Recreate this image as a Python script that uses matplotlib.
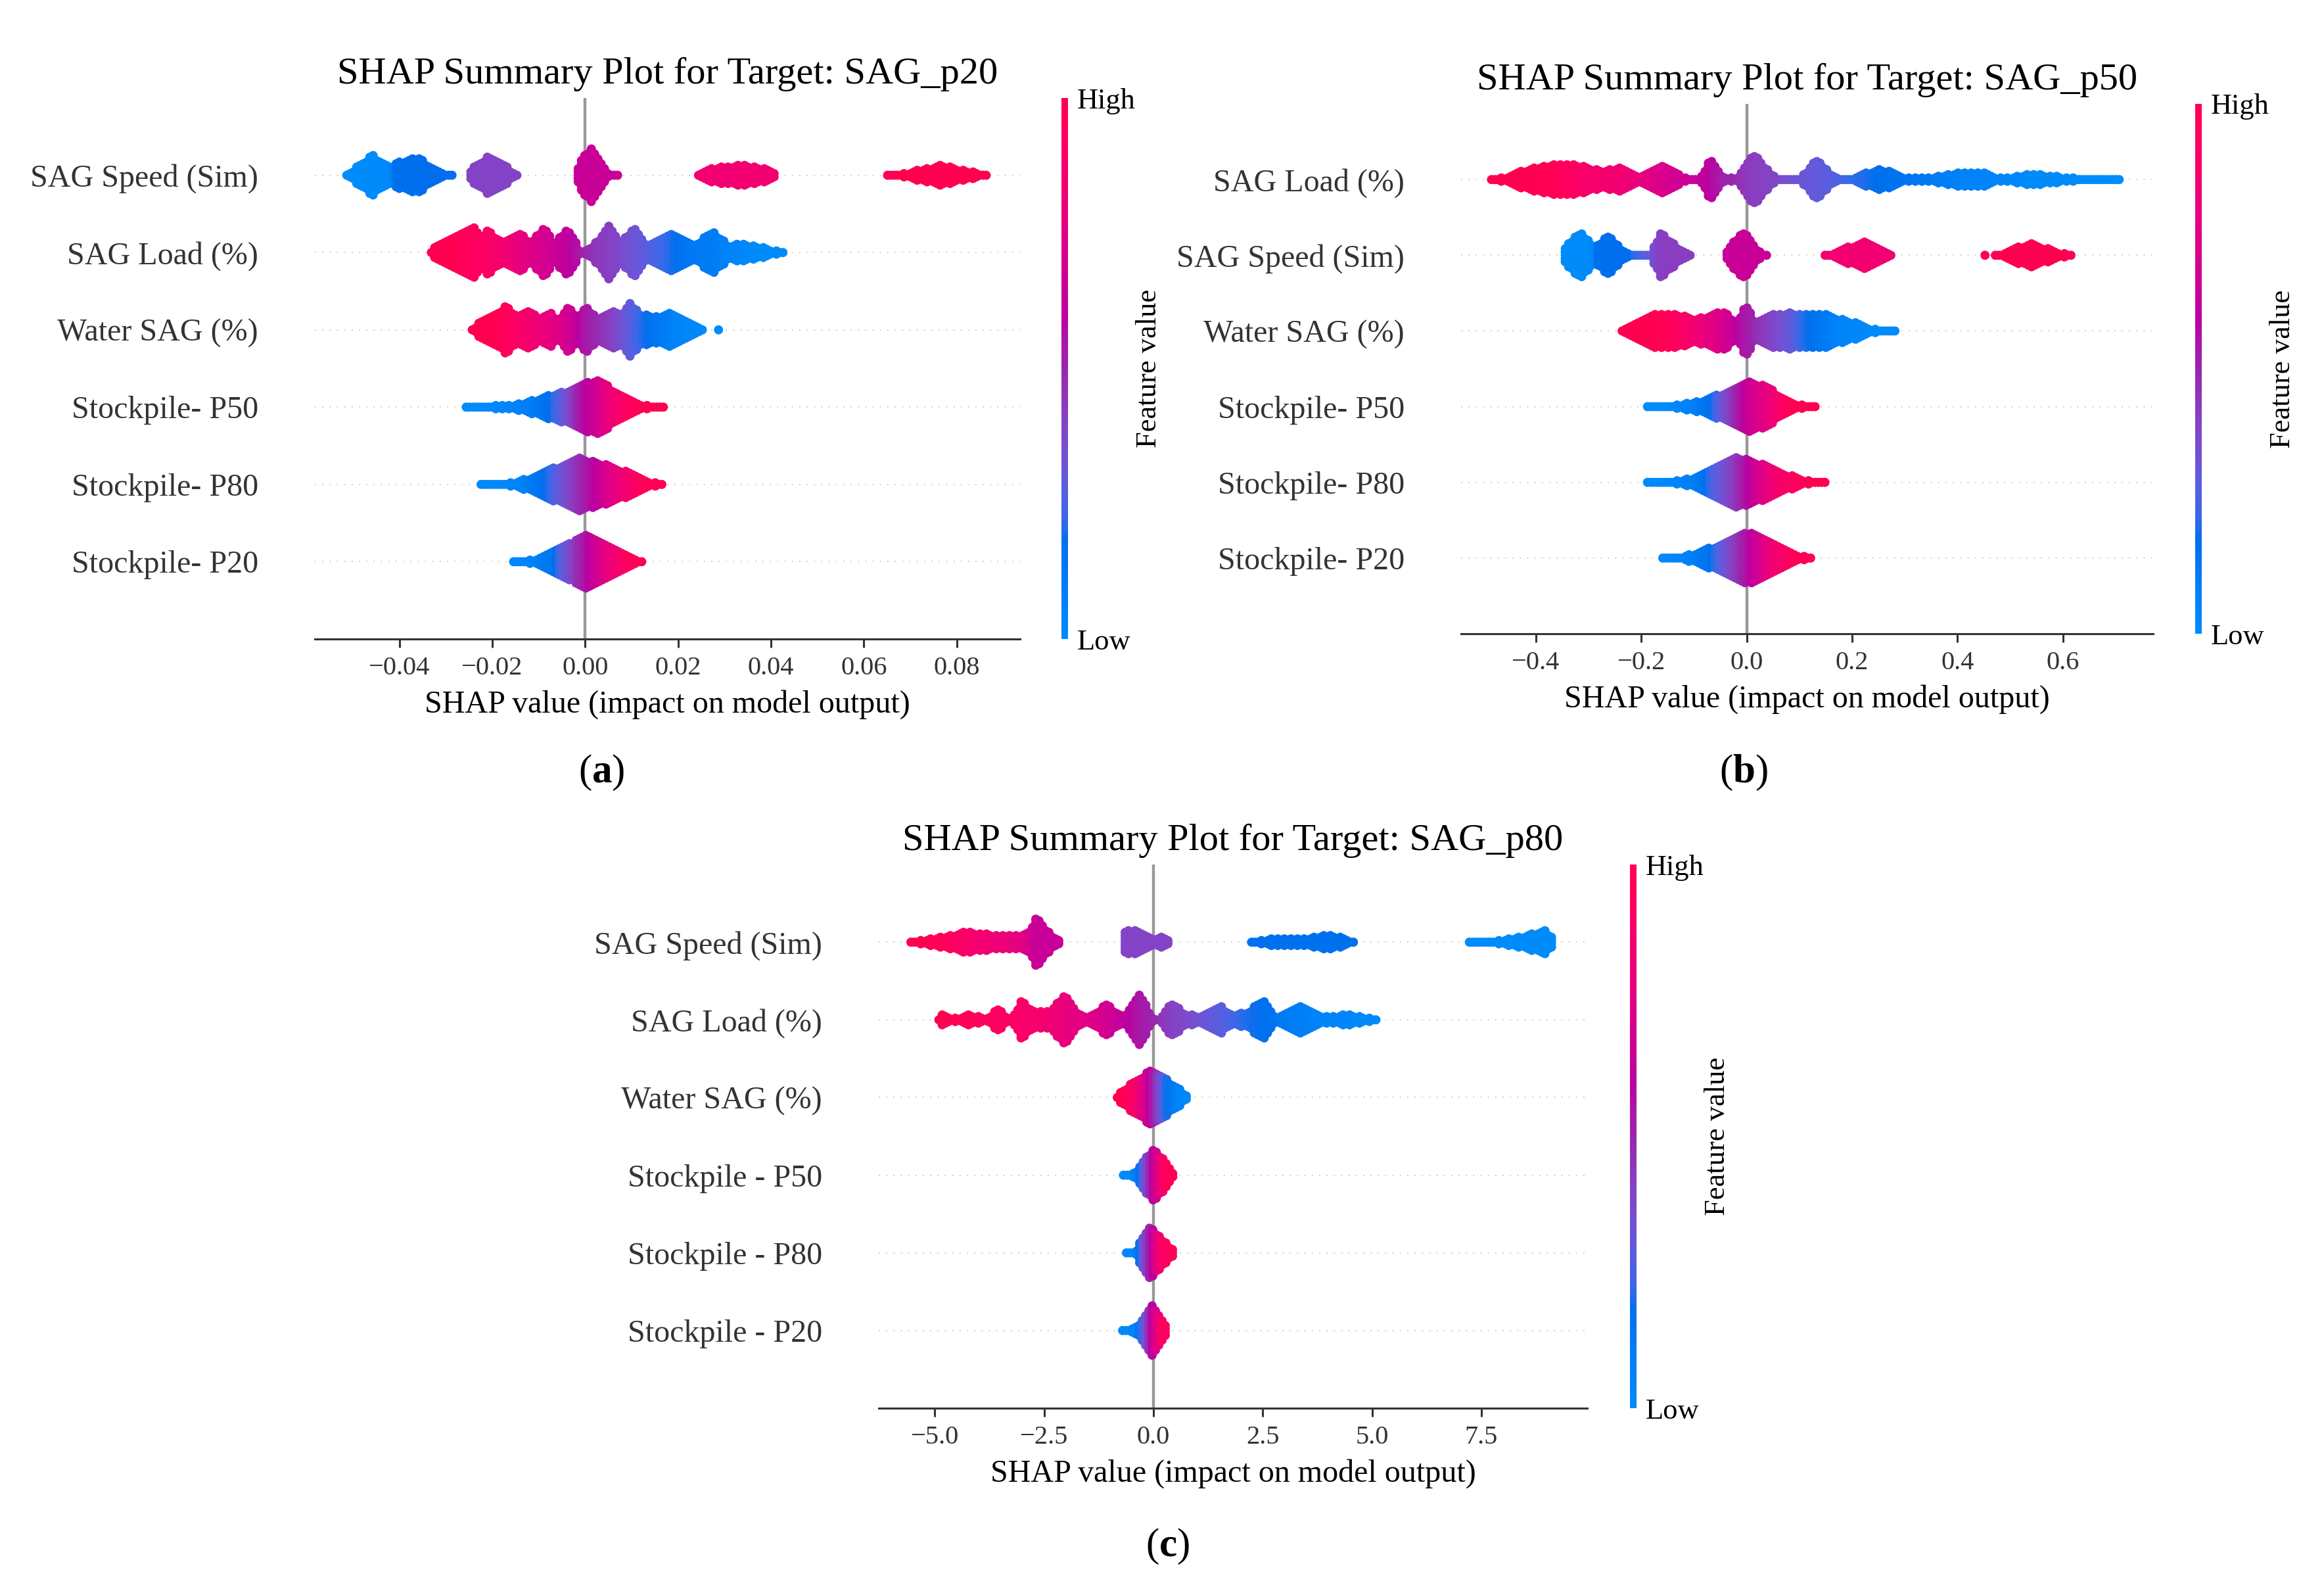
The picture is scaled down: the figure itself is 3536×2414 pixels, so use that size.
import numpy as np
import matplotlib
matplotlib.use("Agg")
import matplotlib.pyplot as plt
from matplotlib.colors import LinearSegmentedColormap, Normalize
from matplotlib.cm import ScalarMappable

plt.rcParams['font.family'] = ['Liberation Serif', 'DejaVu Serif']
plt.rcParams['mathtext.fontset'] = 'custom'
plt.rcParams['mathtext.rm'] = 'Liberation Serif'
plt.rcParams['mathtext.bf'] = 'Liberation Serif:bold'

# feature order (top to bottom) for each target
features_p20 = ["SAG Speed (Sim)", "SAG Load (%)", "Water SAG (%)",
                "Stockpile- P50", "Stockpile- P80", "Stockpile- P20"]
features_p50 = ["SAG Load (%)", "SAG Speed (Sim)", "Water SAG (%)",
                "Stockpile- P50", "Stockpile- P80", "Stockpile- P20"]
features_p80 = ["SAG Speed (Sim)", "SAG Load (%)", "Water SAG (%)",
                "Stockpile - P50", "Stockpile - P80", "Stockpile - P20"]

ticks_p20 = [-0.04, -0.02, 0.00, 0.02, 0.04, 0.06, 0.08]
ticks_p50 = [-0.4, -0.2, 0.0, 0.2, 0.4, 0.6]
ticks_p80 = [-5.0, -2.5, 0.0, 2.5, 5.0, 7.5]

# swarm outlines:
# (SHAP value, half height as fraction of row gap, feature value 0=low..1=high), None = gap
a_speed = [(-0.0523, .06, 0), (-0.0495, .155, 0), (-0.0475, .25, 0), (-0.0458, .325, 0),
           (-0.0436, .24, 0), (-0.0416, .17, .02), (-0.0405, .23, .18), (-0.0359, .30, .18),
           (-0.0331, .17, .18), (-0.0306, .10, .18), (-0.0271, .04, .18), None,
           (-0.0256, .04, .4), (-0.0236, .20, .4), (-0.0208, .31, .4), (-0.0176, .20, .4),
           (-0.0152, .10, .4), (-0.0132, .04, .4), None,
           (-0.0025, .07, .65), (-0.0007, .28, .65), (0.0013, .41, .65), (0.0033, .23, .65),
           (0.0053, .07, .65), (0.0083, .04, .65), None,
           (0.0234, .04, .85), (0.0272, .155, .85), (0.0332, .20, .85), (0.0382, .155, .85),
           (0.0422, .04, .85), None,
           (0.0641, .03, 1), (0.0701, .11, 1), (0.0766, .19, 1), (0.0830, .11, 1), (0.0880, .03, 1)]
a_load = [(-0.0341, .04, 1), (-0.0316, .17, 1), (-0.0286, .25, 1), (-0.0266, .34, .98),
          (-0.0241, .40, .95), (-0.0226, .27, .93), (-0.0211, .35, .92), (-0.0186, .24, .88),
          (-0.0166, .21, .85), (-0.0142, .325, .8), (-0.0117, .20, .75), (-0.0087, .40, .7),
          (-0.0067, .18, .66), (-0.0037, .38, .62), (-0.0012, .11, .55), (0.0003, .085, .5),
          (0.0023, .20, .45), (0.0051, .41, .42), (0.0078, .20, .38), (0.0108, .40, .33),
          (0.0133, .155, .28), (0.0187, .30, .2), (0.0232, .17, .12), (0.0277, .325, .1),
          (0.0312, .155, .05), (0.0342, .18, .03), (0.0382, .13, 0), (0.0437, .04, 0)]
a_water = [(-0.0253, .04, 1), (-0.0226, .17, 1), (-0.0196, .25, 1), (-0.0171, .37, .97),
           (-0.0147, .23, .92), (-0.0117, .31, .87), (-0.0097, .20, .82), (-0.0077, .31, .8),
           (-0.0057, .20, .75), (-0.0035, .38, .7), (-0.0017, .20, .62), (0.0003, .37, .55),
           (0.0028, .20, .48), (0.0058, .325, .42), (0.0078, .23, .35), (0.0095, .41, .3),
           (0.0118, .28, .22), (0.0148, .23, .15), (0.0177, .28, .1), (0.0202, .24, .05),
           (0.0232, .14, .02), (0.0262, .04, 0), None, (0.0287, .04, 0)]
a_p50 = [(-0.0266, .04, 0), (-0.0216, .07, 0), (-0.0156, .10, .05), (-0.0107, .155, .1),
         (-0.0067, .24, .2), (-0.0037, .27, .35), (-0.0007, .37, .55), (0.0033, .41, .7),
         (0.0063, .28, .85), (0.0103, .14, .95), (0.0143, .07, 1), (0.0182, .04, 1)]
a_p80 = [(-0.0234, .04, 0), (-0.0176, .07, .02), (-0.0127, .13, .08), (-0.0077, .25, .2),
         (-0.0017, .41, .45), (0.0023, .35, .6), (0.0073, .27, .8), (0.0123, .13, .95),
         (0.0180, .04, 1)]
a_p20 = [(-0.0164, .04, 0), (-0.0117, .085, .05), (-0.0067, .23, .15), (-0.0027, .31, .4),
         (0.0001, .41, .55), (0.0043, .30, .75), (0.0093, .13, .95), (0.0138, .04, 1)]

b_load = [(-0.493, .04, 1), (-0.456, .11, 1), (-0.412, .21, 1), (-0.355, .28, .97),
          (-0.307, .24, .9), (-0.272, .17, .87), (-0.237, .24, .85), (-0.201, .11, .8),
          (-0.157, .25, .72), (-0.122, .10, .67), (-0.091, .06, .65), (-0.069, .325, .6),
          (-0.043, .085, .52), (-0.021, .085, .48), (0.014, .40, .42), (0.049, .13, .4),
          (0.062, .04, .38), (0.076, .04, .35), (0.098, .07, .33), (0.133, .325, .3),
          (0.168, .085, .27), (0.194, .07, .22), (0.252, .21, .18), (0.309, .085, .15),
          (0.344, .085, .12), (0.405, .17, .07), (0.449, .155, .05), (0.485, .085, .03),
          (0.546, .14, 0), (0.617, .085, 0), (0.690, .06, 0), (0.718, .04, 0)]
b_speed = [(-0.353, .04, 0), (-0.338, .23, 0), (-0.316, .37, 0), (-0.298, .25, 0),
           (-0.285, .17, .05), (-0.283, .20, .18), (-0.263, .325, .18), (-0.241, .17, .18),
           (-0.219, .07, .18), (-0.184, .06, .3), (-0.162, .37, .42), (-0.131, .17, .42),
           (-0.098, .04, .42), None,
           (-0.046, .06, .65), (-0.026, .23, .65), (-0.004, .40, .65), (0.018, .17, .65),
           (0.036, .04, .65), (0.052, .04, .65), None,
           (0.140, .04, .85), (0.177, .14, .85), (0.225, .24, .85), (0.265, .13, .85),
           (0.287, .04, .85), None,
           (0.452, .035, 1), None,
           (0.463, .04, 1), (0.493, .11, 1), (0.537, .23, 1), (0.581, .13, 1), (0.625, .04, 1)]
b_water = [(-0.245, .04, 1), (-0.210, .17, 1), (-0.184, .28, 1), (-0.149, .30, .98),
           (-0.113, .25, .9), (-0.096, .21, .85), (-0.065, .30, .78), (-0.039, .31, .7),
           (-0.021, .17, .62), (-0.001, .40, .55), (0.018, .17, .48), (0.049, .28, .4),
           (0.080, .31, .32), (0.106, .28, .22), (0.146, .30, .12), (0.177, .23, .05),
           (0.221, .14, .02), (0.256, .06, 0), (0.296, .04, 0)]
b_p50 = [(-0.197, .04, 0), (-0.149, .07, 0), (-0.096, .13, .08), (-0.061, .21, .2),
         (-0.026, .28, .45), (0.005, .40, .65), (0.045, .31, .8), (0.076, .14, .95),
         (0.115, .07, 1), (0.143, .04, 1)]
b_p80 = [(-0.197, .04, 0), (-0.149, .07, .02), (-0.096, .13, .08), (-0.061, .25, .25),
         (-0.018, .40, .45), (0.014, .34, .65), (0.054, .25, .85), (0.098, .11, .95),
         (0.137, .06, 1), (0.159, .04, 1)]
b_p20 = [(-0.168, .04, 0), (-0.122, .085, .05), (-0.069, .20, .15), (-0.026, .35, .4),
         (0.010, .41, .6), (0.054, .25, .85), (0.098, .11, .97), (0.135, .04, 1)]

c_speed = [(-5.65, .04, 1), (-5.22, .10, 1), (-4.80, .13, .97), (-4.27, .20, .9),
           (-3.85, .17, .85), (-3.42, .155, .82), (-3.00, .155, .78), (-2.79, .23, .7),
           (-2.66, .41, .65), (-2.47, .23, .65), (-2.20, .10, .65), (-1.99, .04, .65), None,
           (-0.75, .06, .4), (-0.61, .25, .4), (-0.35, .20, .4), (-0.03, .11, .4),
           (0.23, .155, .4), (0.44, .04, .4), None,
           (2.14, .04, .17), (2.62, .11, .17), (3.36, .11, .17), (3.94, .155, .17),
           (4.42, .11, .17), (4.68, .04, .17), None,
           (7.12, .04, 0), (7.70, .07, 0), (8.34, .13, 0), (8.97, .21, 0), (9.24, .04, 0)]
c_load = [(-5.01, .04, 1), (-4.82, .14, 1), (-4.59, .085, 1), (-4.16, .13, .97),
          (-3.85, .085, .95), (-3.53, .21, .93), (-3.26, .07, .92), (-3.02, .31, .9),
          (-2.73, .17, .88), (-2.36, .17, .85), (-2.02, .40, .8), (-1.73, .13, .77),
          (-1.41, .11, .75), (-1.09, .27, .7), (-0.67, .11, .62), (-0.30, .41, .55),
          (-0.03, .11, .5), (0.13, .04, .47), (0.39, .30, .42), (0.71, .155, .38),
          (1.03, .11, .34), (1.56, .23, .28), (1.77, .13, .25), (2.14, .17, .2),
          (2.53, .325, .18), (2.83, .085, .15), (2.99, .155, .12), (3.46, .25, .08),
          (3.78, .11, .05), (4.42, .13, .03), (4.84, .10, 0), (5.24, .04, 0)]
c_water = [(-0.93, .04, 1), (-0.67, .17, 1), (-0.40, .30, .9), (-0.05, .41, .6),
           (0.29, .30, .2), (0.60, .17, .05), (0.90, .04, 0)]
c_p50 = [(-0.79, .04, 0), (-0.60, .07, 0), (-0.40, .13, .05), (-0.24, .25, .25),
         (0.0, .41, .6), (0.29, .23, .95), (0.55, .04, 1)]
c_p80 = [(-0.72, .04, 0), (-0.40, .11, .05), (-0.24, .27, .3), (-0.05, .41, .55),
         (0.18, .25, .9), (0.55, .04, 1)]
c_p20 = [(-0.81, .04, 0), (-0.40, .11, .05), (-0.19, .25, .3), (-0.05, .41, .55),
         (0.18, .20, .9), (0.44, .04, 1)]


# shap-like red/blue colormap (lch interpolation, lightness dips in the middle)
def lab_to_rgb(L, a, b):
    fy = (L + 16) / 116
    f = np.array([a / 500 + fy, fy, fy - b / 200])
    t = np.where(f ** 3 > 0.008856, f ** 3, (f - 16 / 116) / 7.787)
    xyz = t * np.array([0.95047, 1.0, 1.08883])
    M = np.array([[3.2406, -1.5372, -0.4986],
                  [-0.9689, 1.8758, 0.0415],
                  [0.0557, -0.2040, 1.0570]])
    lin = M @ xyz
    rgb = np.where(lin > 0.0031308, 1.055 * np.abs(lin) ** (1 / 2.4) - 0.055, 12.92 * lin)
    return np.clip(rgb, 0, 1)


nsteps = 100
l_vals = np.r_[np.linspace(54, 40, nsteps // 2), np.linspace(40, 54, nsteps // 2)]
c_vals = np.linspace(70, 90, nsteps)
h_vals = np.linspace(4.6588, 0.35470565 + 2 * np.pi, nsteps)
rb_colors = [lab_to_rgb(l, c * np.cos(h), c * np.sin(h)) for l, c, h in zip(l_vals, c_vals, h_vals)]
red_blue = LinearSegmentedColormap.from_list("red_blue", rb_colors)

W, H, DPI = 3536, 2414, 200
DOT_R = 7.0   # dot radius, px
STEP = 5.0    # dot spacing, px

fig = plt.figure(figsize=(W / DPI, H / DPI), dpi=DPI)


def swarm(ax, knots, ypos, xlim, w_px, h_px):
    dx = (xlim[1] - xlim[0]) / w_px
    dy = 7.0 / h_px
    clusters, cur = [], []
    for k in knots + [None]:
        if k is None:
            if cur:
                clusters.append(cur)
            cur = []
        else:
            cur.append(k)
    px, py, pc = [], [], []
    for cl in clusters:
        kx, kh, kc = (np.array(v, float) for v in zip(*cl))
        lo, hi = kx[0] + DOT_R * dx, kx[-1] - DOT_R * dx
        cols = np.arange(lo, hi + 1e-12, STEP * dx) if hi > lo else np.array([(kx[0] + kx[-1]) / 2])
        for i, x in enumerate(cols):
            half = max(np.interp(x, kx, kh) - DOT_R * dy, 0)
            off = STEP * dy / 2 if i % 2 else 0
            n = int(half // (STEP * dy)) + 1
            ys = off + STEP * dy * np.arange(-n, n + 1)
            ys = ys[np.abs(ys) <= half + 1e-9]
            if len(ys) == 0:
                ys = np.array([0.0])
            px.extend([x] * len(ys))
            py.extend(ypos + ys)
            pc.extend([np.interp(x, kx, kc)] * len(ys))
    ax.scatter(px, py, c=red_blue(np.array(pc)), s=25, linewidths=0, zorder=3)


def panel(rect, cbar_x, title, features, rows, xlim, ticks, letter, letter_xy):
    ax = fig.add_axes(rect)
    w_px, h_px = rect[2] * W, rect[3] * H
    n = len(features)
    ax.set_xlim(xlim)
    ax.set_ylim(-1, n)
    ax.axvline(0, color="#999999", lw=1.6, zorder=1)
    for i, (name, knots) in enumerate(zip(features, rows)):
        y = n - 1 - i
        ax.axhline(y, color="#cccccc", lw=0.67, dashes=(1, 5), zorder=0)
        swarm(ax, knots, y, xlim, w_px, h_px)
    ax.set_yticks(range(n))
    ax.set_yticklabels(features[::-1])
    ax.set_xticks(ticks)
    for sp in ["top", "right", "left"]:
        ax.spines[sp].set_visible(False)
    ax.spines["bottom"].set_color("#333333")
    ax.spines["bottom"].set_linewidth(1.1)
    ax.tick_params(axis="y", length=0, pad=31, labelsize=17.3, labelcolor="#333333")
    ax.tick_params(axis="x", length=4.7, width=1.1, pad=4.7, labelsize=14.6,
                   color="#333333", labelcolor="#333333")
    ax.set_xlabel("SHAP value (impact on model output)", fontsize=17.3, labelpad=5)
    ax.set_title(title, fontsize=21, pad=8)

    cax = fig.add_axes([cbar_x / W, rect[1], 10 / W, rect[3]])
    sm = ScalarMappable(norm=Normalize(0, 1), cmap=red_blue)
    cb = fig.colorbar(sm, cax=cax, ticks=[0, 1])
    cb.set_ticklabels(["Low", "High"])
    cb.ax.tick_params(labelsize=16, length=0, pad=5)
    cb.set_label("Feature value", size=16, labelpad=0)
    cb.outline.set_visible(False)

    fig.text(letter_xy[0] / W, 1 - letter_xy[1] / H, r"($\mathbf{%s}$)" % letter,
             fontsize=22, ha="center", va="center")


panel([479 / W, 1 - 972 / H, 1073 / W, 823 / H], 1615,
      "SHAP Summary Plot for Target: SAG_p20", features_p20,
      [a_speed, a_load, a_water, a_p50, a_p80, a_p20],
      (-0.0582, 0.0936), ticks_p20, "a", (915, 1175))
panel([2223 / W, 1 - 964 / H, 1053 / W, 806 / H], 3340,
      "SHAP Summary Plot for Target: SAG_p50", features_p50,
      [b_load, b_speed, b_water, b_p50, b_p80, b_p20],
      (-0.542, 0.771), ticks_p50, "b", (2653, 1175))
panel([1337 / W, 1 - 2142 / H, 1078 / W, 827 / H], 2480,
      "SHAP Summary Plot for Target: SAG_p80", features_p80,
      [c_speed, c_load, c_water, c_p50, c_p80, c_p20],
      (-6.28, 9.92), ticks_p80, "c", (1777, 2352))

fig.savefig("out.png", dpi=DPI, facecolor="white")
